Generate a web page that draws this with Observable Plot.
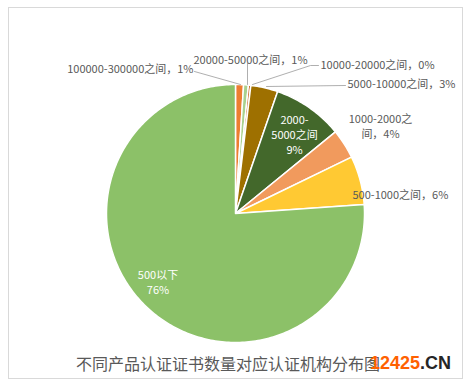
<!DOCTYPE html>
<html>
<head>
<meta charset="utf-8">
<script src="https://cdn.jsdelivr.net/npm/d3@7"></script>
<script src="https://cdn.jsdelivr.net/npm/@observablehq/plot@0.6"></script>
<style>
  html, body { margin: 0; padding: 0; background: #fff; }
  body { width: 472px; height: 386px; position: relative; overflow: hidden; font-family: "Noto Sans CJK SC", "Noto Sans", sans-serif; }
  #frame { position: absolute; left: 8px; top: 7px; width: 455px; height: 372px; box-sizing: border-box; border: 1.5px solid #d9d9d9; }
  #chart { position: absolute; left: 0; top: 0; }
  #title { position: absolute; left: 0; width: 456px; top: 353px; line-height: 20px; text-align: center; font-size: 16px; color: #595959; }
  #wm { position: absolute; left: 370px; top: 353px; line-height: 22px; font: bold 18px "Liberation Sans", Arial, sans-serif; }
  #wm .o { color: #ff6100; }
  #wm .d { color: #262626; }
</style>
</head>
<body>
<div id="frame"></div>
<div id="chart"></div>
<div id="title">不同产品认证证书数量对应认证机构分布图</div>
<div id="wm"><span class="o">12425</span><span class="d">.CN</span></div>
<script>
// ---- data ----
const categories = ["100000-300000之间", "20000-50000之间", "10000-20000之间", "5000-10000之间", "2000-5000之间", "1000-2000之间", "500-1000之间", "500以下"];
const values = [1.0, 0.6, 0.3, 3.4, 8.8, 3.7, 6.1, 76.1];
const percentLabels = ["1%", "1%", "0%", "3%", "9%", "4%", "6%", "76%"];
const colors = ["#ED7D31", "#A9D18E", "#C55A11", "#9E7000", "#43682B", "#F19A5D", "#FFC933", "#8CC168"];
const labelTexts = [
  "100000-300000之间，1%",
  "20000-50000之间，1%",
  "10000-20000之间，0%",
  "5000-10000之间，3%",
  "2000-\n5000之间\n9%",
  "1000-2000之\n间，4%",
  "500-1000之间，6%",
  "500以下\n76%"
];

// ---- layout (pixel offsets from pie centre; radius in px) ----
const R = 129;
const labelLayout = [
  {dx: -42, dy: -145, anchor: "end", fill: "#595959"},
  {dx: -42, dy: -154, anchor: "start", fill: "#595959"},
  {dx: 85, dy: -149, anchor: "start", fill: "#595959"},
  {dx: 112, dy: -130, anchor: "start", fill: "#595959"},
  {dx: 59, dy: -79, anchor: "middle", fill: "#ffffff"},
  {dx: 145, dy: -87.5, anchor: "middle", fill: "#595959"},
  {dx: 117, dy: -19, anchor: "start", fill: "#595959"},
  {dx: -77.5, dy: 68.5, anchor: "middle", fill: "#ffffff"}
];
const leaderLayout = [
  [[-41, -142], [5, -129]],
  [[12, -150], [12, -129]],
  [[83, -148], [75, -148], [17, -129]],
  [[110, -128], [31, -127]]
];

// ---- geometry from data ----
const total = d3.sum(values);
const pie = [];
let acc = 0;
values.forEach((v, i) => {
  const a0 = acc / total * 2 * Math.PI;
  acc += v;
  const a1 = acc / total * 2 * Math.PI;
  const n = Math.max(2, Math.ceil((a1 - a0) / (Math.PI / 180)));
  const ring = [[0, 0]];
  for (let k = 0; k <= n; k++) {
    const a = a0 + (a1 - a0) * k / n;
    ring.push([Math.sin(a), Math.cos(a)]);
  }
  ring.push([0, 0]);
  pie.push({type: "Feature", properties: {category: categories[i]}, geometry: {type: "Polygon", coordinates: [ring]}});
});

const labels = labelTexts.map((t, i) => ({
  text: t,
  x: labelLayout[i].dx / R,
  y: -labelLayout[i].dy / R,
  anchor: labelLayout[i].anchor,
  fill: labelLayout[i].fill
}));
const leaders = leaderLayout.flatMap((pts, i) => pts.map(([dx, dy]) => ({id: i, x: dx / R, y: -dy / R})));

const cx = 235, cy = 213, W = 472, H = 345;
const chart = Plot.plot({
  width: W,
  height: H,
  marginLeft: cx - R,
  marginRight: W - (cx + R),
  marginTop: cy - R,
  marginBottom: H - (cy + R),
  style: {fontFamily: '"Noto Sans CJK SC", "Noto Sans", sans-serif', background: "transparent", overflow: "visible"},
  projection: {type: "reflect-y", inset: 0, clip: false, domain: {type: "MultiPoint", coordinates: [[-1, -1], [1, 1]]}},
  color: {domain: categories, range: colors},
  marks: [
    Plot.geo(pie, {fill: d => d.properties.category, stroke: "white", strokeWidth: 1.5, strokeLinejoin: "round", clip: false}),
    Plot.line(leaders, {x: "x", y: "y", z: "id", stroke: "#a6a6a6", strokeWidth: 0.9, clip: false}),
    ...["start", "middle", "end"].map(anchor =>
      Plot.text(labels.filter(d => d.anchor === anchor), {
        x: "x", y: "y", text: "text", textAnchor: anchor, lineAnchor: "middle",
        lineHeight: 15 / 11, fontSize: 11, fill: d => d.fill, clip: false
      })
    )
  ]
});
document.getElementById("chart").appendChild(chart);
</script>
</body>
</html>
